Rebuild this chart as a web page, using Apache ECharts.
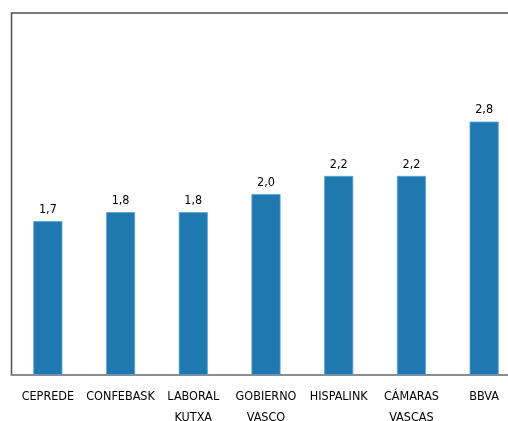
<!DOCTYPE html>
<html><head><meta charset="utf-8">
<script src="https://cdn.jsdelivr.net/npm/echarts@6/dist/echarts.min.js"></script>
<style>html,body{margin:0;padding:0;background:#fff}#c{width:508px;height:421px}</style>
</head><body><div id="c"></div>
<script>
const categories = ['CEPREDE', 'CONFEBASK', 'LABORAL\nKUTXA', 'GOBIERNO\nVASCO', 'HISPALINK', 'CÁMARAS\nVASCAS', 'BBVA'];
const values = [1.7, 1.8, 1.8, 2.0, 2.2, 2.2, 2.8];
const FONT = '"DejaVu Sans Condensed", "Liberation Sans Narrow", sans-serif';
const chart = echarts.init(document.getElementById('c'), null, {renderer: 'canvas'});
chart.setOption({
  animation: false,
  grid: {left: 11.5, top: 13, right: -12.5, bottom: 46, show: true, borderColor: '#505050', borderWidth: 1.5,
    containLabel: false, outerBoundsMode: 'none'},
  xAxis: {
    type: 'category', data: categories,
    axisLine: {lineStyle: {color: '#8c8c8c', width: 2}},
    axisTick: {show: false},
    axisLabel: {color: '#000', fontFamily: FONT, fontSize: 12.5, margin: 11, lineHeight: 21, interval: 0}
  },
  yAxis: {type: 'value', min: 0, max: 4, show: false, splitLine: {show: false}},
  series: [{
    type: 'bar', data: values, barWidth: '40%',
    itemStyle: {color: '#1f78b0', borderColor: '#5fa3d0', borderWidth: 0.8},
    label: {show: true, position: 'top', distance: 5, color: '#000', fontFamily: FONT, fontSize: 12.5,
      formatter: p => p.value.toFixed(1).replace('.', ',')}
  }]
});
</script></body></html>
